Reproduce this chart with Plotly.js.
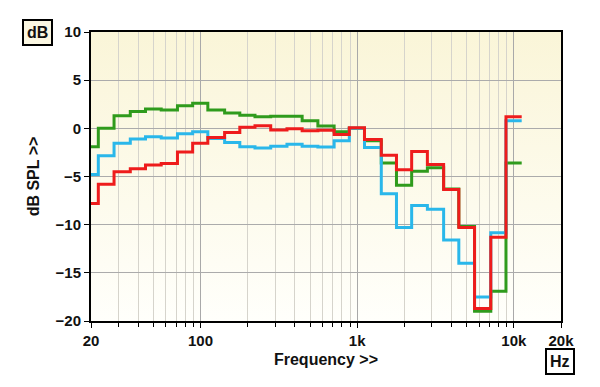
<!DOCTYPE html>
<html>
<head>
<meta charset="utf-8">
<script src="https://cdn.plot.ly/plotly-3.0.1.min.js"></script>
<style>
html,body{margin:0;padding:0;background:#fff;}
#chart{width:600px;height:387px;}
</style>
</head>
<body>
<div id="chart"></div>
<script>
// 1/3-octave band centre frequencies (Hz)
const bands = [20, 25, 31.5, 40, 50, 63, 80, 100, 125, 160, 200, 250, 315, 400, 500, 630, 800,
               1000, 1250, 1600, 2000, 2500, 3150, 4000, 5000, 6300, 8000, 10000];

// Series values (dB SPL)
const greenSeries = [-1.9, 0.0, 1.3, 1.75, 2.0, 1.9, 2.35, 2.6, 1.9, 1.6, 1.35, 1.2, 1.25, 1.25, 0.8, 0.25, -0.35,
                     0.0, -1.3, -3.6, -5.9, -4.45, -4.1, -6.3, -10.2, -19.0, -16.9, -3.6];
const cyanSeries  = [-4.8, -2.85, -1.55, -1.12, -0.87, -1.0, -0.55, -0.35, -1.05, -1.47, -1.9, -2.05, -1.85, -1.65, -1.85, -1.94, -1.3,
                     0.0, -2.0, -6.8, -10.3, -8.0, -8.4, -11.6, -14.0, -17.5, -10.85, 0.8];
const redSeries   = [-7.8, -5.8, -4.5, -4.2, -3.8, -3.65, -2.45, -1.55, -0.95, -0.43, 0.12, 0.26, -0.18, -0.05, -0.25, -0.2, -0.63,
                     0.05, -1.15, -2.8, -4.3, -2.4, -3.75, -6.35, -10.3, -18.7, -11.3, 1.2];

// Axis ticks
const xTickVals = [20, 100, 1000, 10000, 20000];
const xTickText = ['20', '100', '1k', '10k', '20k'];
const xMinorVals = [30, 40, 50, 60, 70, 80, 90, 200, 300, 400, 500, 600, 700, 800, 900,
                    2000, 3000, 4000, 5000, 6000, 7000, 8000, 9000];
const yTickVals = [10, 5, 0, -5, -10, -15, -20];

// Build step outlines: each band spans from centre/2^(1/6) to centre*2^(1/6)
const halfBand = Math.pow(2, 1/6);
function stepX(centres) {
  const xs = centres.map(f => f / halfBand);
  xs.push(centres[centres.length - 1] * halfBand);
  return xs;
}
function stepY(vals) {
  const ys = vals.slice();
  ys.push(vals[vals.length - 1]);
  return ys;
}

function mk(vals, color) {
  return {
    type: 'scatter', mode: 'lines',
    x: stepX(bands), y: stepY(vals),
    line: {shape: 'hv', color: color, width: 3},
    hoverinfo: 'skip', showlegend: false
  };
}

const data = [
  mk(greenSeries, '#2f9b1c'),
  mk(cyanSeries, '#2ab7ea'),
  mk(redSeries, '#ee1c1c')
];

const font = {family: 'Liberation Sans, Arial, sans-serif', color: '#111', size: 15, weight: 'bold'};

const grad = 'data:image/svg+xml;utf8,' + encodeURIComponent(
  '<svg xmlns="http://www.w3.org/2000/svg" width="100" height="100" preserveAspectRatio="none">' +
  '<defs><linearGradient id="g" x1="0" y1="0" x2="0" y2="1">' +
  '<stop offset="0" stop-color="#faf5d8"/><stop offset="1" stop-color="#fffffb"/>' +
  '</linearGradient></defs><rect width="100" height="100" fill="url(#g)"/></svg>');

const layout = {
  width: 600, height: 387,
  margin: {l: 91, r: 39, t: 32, b: 66, pad: 0},
  paper_bgcolor: '#ffffff',
  plot_bgcolor: 'rgba(0,0,0,0)',
  font: font,
  showlegend: false,
  xaxis: {
    type: 'log',
    range: [Math.log10(20), Math.log10(20000)],
    tickvals: xTickVals, ticktext: xTickText,
    ticks: 'outside', ticklen: 5, tickwidth: 1, tickcolor: '#000',
    showgrid: true, gridcolor: '#a9a9a9', gridwidth: 1,
    minor: {tickvals: xMinorVals, ticks: 'outside', ticklen: 4, tickcolor: '#000',
            showgrid: true, gridcolor: '#d6d4cc', gridwidth: 1},
    showline: true, linecolor: '#000', linewidth: 2, mirror: true,
    zeroline: false,
    tickfont: {family: font.family, size: 15, color: '#111', weight: 'bold'},
    title: {text: 'Frequency >>', font: {family: font.family, size: 16, color: '#111', weight: 'bold'}, standoff: 6}
  },
  yaxis: {
    range: [-20, 10],
    tickvals: yTickVals,
    ticks: 'outside', ticklen: 5, tickwidth: 1, tickcolor: '#000',
    showgrid: true, gridcolor: '#ababab', gridwidth: 1,
    showline: true, linecolor: '#000', linewidth: 2, mirror: true,
    zeroline: false,
    tickfont: {family: font.family, size: 15, color: '#111', weight: 'bold'},
    title: {text: 'dB SPL >>', font: {family: font.family, size: 16, color: '#111', weight: 'bold'}, standoff: 12}
  },
  images: [{
    source: grad, xref: 'paper', yref: 'paper', x: 0, y: 1, sizex: 1, sizey: 1,
    sizing: 'stretch', layer: 'below', xanchor: 'left', yanchor: 'top'
  }],
  annotations: [
    {text: 'dB', xref: 'paper', yref: 'paper', x: -0.113, y: 1.0, xanchor: 'center', yanchor: 'middle',
     showarrow: false, bgcolor: '#fbf7e2', bordercolor: '#000', borderwidth: 2, borderpad: 3,
     font: {family: font.family, size: 16, color: '#111', weight: 'bold'}},
    {text: 'Hz', xref: 'paper', yref: 'paper', x: 0.997, y: -0.14, xanchor: 'center', yanchor: 'middle',
     showarrow: false, bgcolor: '#ffffff', bordercolor: '#000', borderwidth: 2, borderpad: 3,
     font: {family: font.family, size: 16, color: '#111', weight: 'bold'}}
  ]
};

Plotly.newPlot('chart', data, layout, {staticPlot: true, displayModeBar: false});
</script>
</body>
</html>
